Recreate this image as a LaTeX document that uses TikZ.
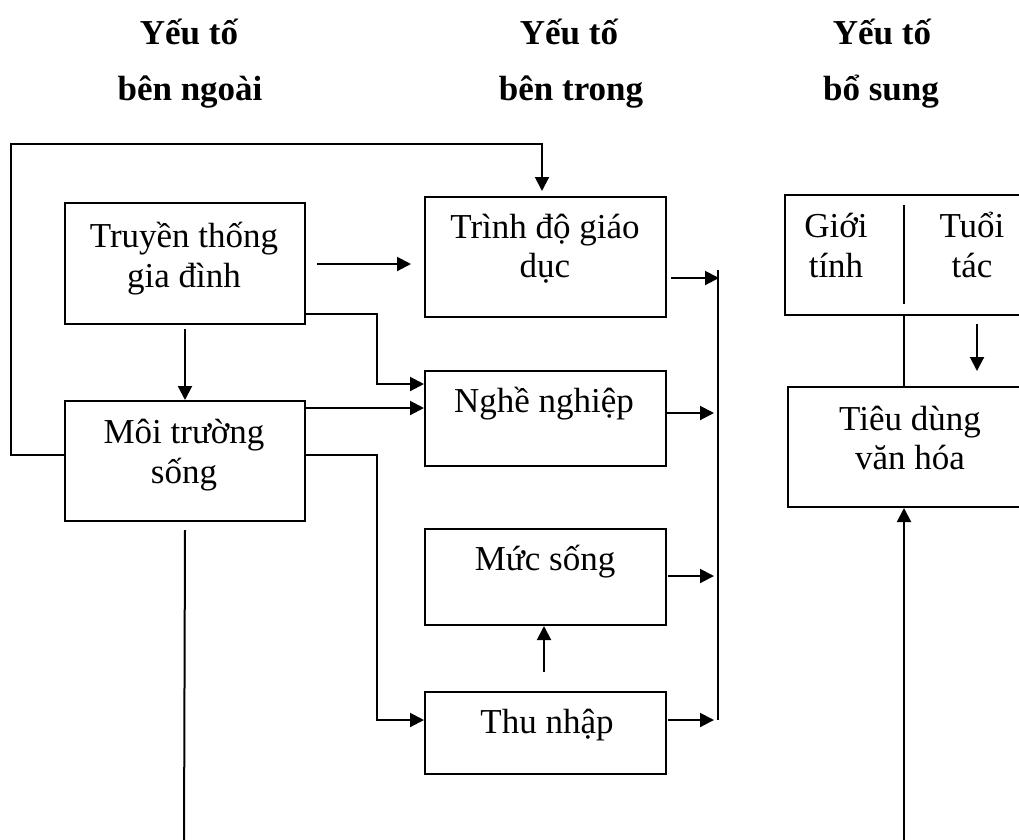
\documentclass[tikz,border=0pt]{standalone}
\usepackage{fontspec}
\setmainfont{Liberation Serif}
\usetikzlibrary{arrows.meta,calc}
\begin{document}
\begin{tikzpicture}[x=1pt,y=-1pt,line width=2pt,
  box/.style={draw,rectangle,inner sep=0pt,anchor=north west,line width=2pt},
  lbl/.style={anchor=base,inner sep=0pt,font=\fontsize{35}{40}\selectfont},
  hdr/.style={anchor=base,inner sep=0pt,font=\fontsize{35}{40}\selectfont\bfseries},
  arr/.style={-{Triangle[length=14pt,width=14pt]}}]
\useasboundingbox (0,0) rectangle (1019,839);
\clip (0,0) rectangle (1019,839);
% headers
\node[hdr] (h1a) at (189,44) {Yếu tố};
\node[hdr] (h1b) at (190,100) {bên ngoài};
\node[hdr] (h2a) at (569,44) {Yếu tố};
\node[hdr] (h2b) at (571,100) {bên trong};
\node[hdr] (h3a) at (882,44) {Yếu tố};
\node[hdr] (h3b) at (881,100) {bổ sung};
% boxes
\node[box,minimum width=240pt,minimum height=121pt] (tt) at (64,202) {};
\node[box,minimum width=241pt,minimum height=120pt] (td) at (424,196) {};
\node[box,minimum width=241pt,minimum height=95pt] (nn) at (424,370) {};
\node[box,minimum width=240pt,minimum height=120pt] (mt) at (64,400) {};
\node[box,minimum width=241pt,minimum height=96pt] (ms) at (424,528) {};
\node[box,minimum width=241pt,minimum height=82pt] (thu) at (424,691) {};
\node[box,minimum width=260pt,minimum height=120pt] (gt) at (784,194) {};
\node[box,minimum width=260pt,minimum height=120pt] (tdv) at (787,386) {};
% labels
\node[lbl] (tt1) at (184,247) {Truyền thống};
\node[lbl] (tt2) at (184,287) {gia đình};
\node[lbl] (td1) at (545,238) {Trình độ giáo};
\node[lbl] (td2) at (545,277) {dục};
\node[lbl] (nn1) at (544,412) {Nghề nghiệp};
\node[lbl] (mt1) at (184,443) {Môi trường};
\node[lbl] (mt2) at (184,483) {sống};
\node[lbl] (ms1) at (545,570) {Mức sống};
\node[lbl] (thu1) at (547,733) {Thu nhập};
\node[lbl] (gt1) at (836,237) {Giới};
\node[lbl] (gt2) at (836,277) {tính};
\node[lbl] (ta1) at (972,237) {Tuổi};
\node[lbl] (ta2) at (972,277) {tác};
\node[lbl] (tdv1) at (910,430) {Tiêu dùng};
\node[lbl] (tdv2) at (910,469) {văn hóa};
% coordinates
\coordinate (loopL) at (11,144);
\coordinate (colT) at (718,270);
\coordinate (colB) at (718,720);
\coordinate (bot1) at (184,845);
\coordinate (bot2) at (904,845);
% connectors
\draw[arr] ($(mt.north west)+(0,55)$) -| (loopL) -| ($(td.north west)+(118,-5)$);
\draw[arr] ($(tt.north east)+(11,62)$) -- ($(td.north west)+(-13,68)$);
\draw[arr] ($(tt.south)+(0,4)$) -- (mt.north);
\draw[arr] ($(tt.south east)+(0,-11)$) -| ($(nn.north west)+(-47,14)$) -- ($(nn.north west)+(0,14)$);
\draw[arr] ($(mt.north east)+(0,8)$) -- ($(nn.north west)+(0,38)$);
\draw[arr] ($(mt.north east)+(0,55)$) -| ($(thu.north west)+(-47,29)$) -- ($(thu.north west)+(0,29)$);
\draw[arr] ($(thu.north west)+(120,-19)$) -- ($(ms.south west)+(120,0)$);
\draw ($(mt.south)+(0,8)$) -- (bot1);
% right column
\draw (colT) -- (colB);
\draw[arr] ($(td.north east)+(4,82)$) -- ($(td.north east)+(52,82)$);
\draw[arr] ($(nn.north east)+(0,43)$) -- ($(nn.north east)+(47,43)$);
\draw[arr] ($(ms.north east)+(1,48)$) -- ($(ms.north east)+(47,48)$);
\draw[arr] ($(thu.north east)+(1,29)$) -- ($(thu.north east)+(47,29)$);
% right side
\draw ($(gt.north west)+(120,11)$) -- ($(gt.south west)+(120,-12)$);
\draw ($(gt.south west)+(120,-2)$) -- ($(tdv.north west)+(117,0)$);
\draw[arr] ($(gt.south west)+(193,8)$) -- ($(gt.south west)+(193,55)$);
\draw[arr] (bot2) -- (bot2 |- tdv.south);
\end{tikzpicture}
\end{document}
